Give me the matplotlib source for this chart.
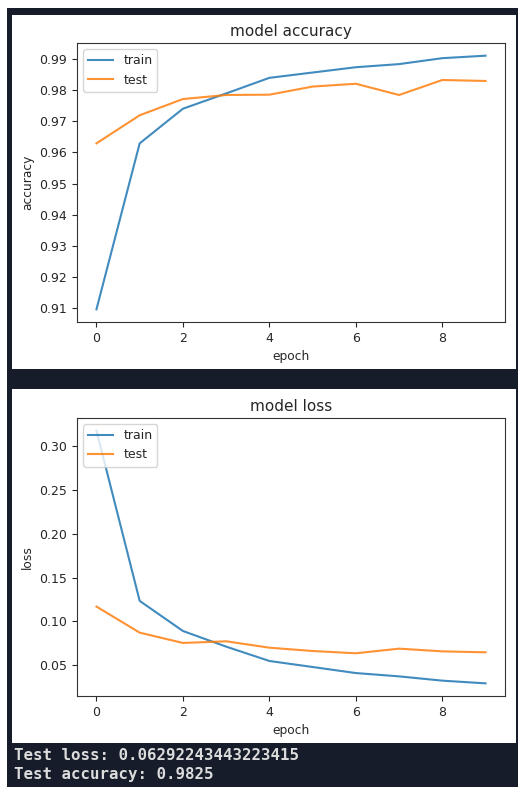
import matplotlib
matplotlib.use('Agg')
import matplotlib.pyplot as plt
from matplotlib.patches import Rectangle

# Training history
epochs = list(range(10))
acc_train = [0.9097, 0.9629, 0.9740, 0.9789, 0.9839, 0.9856, 0.9873, 0.9883, 0.9902, 0.9910]
acc_test = [0.9629, 0.9719, 0.9771, 0.9784, 0.9785, 0.9811, 0.9820, 0.9784, 0.9832, 0.9829]
loss_train = [0.318, 0.1233, 0.0889, 0.0710, 0.0546, 0.0477, 0.0408, 0.0370, 0.0321, 0.0290]
loss_test = [0.1168, 0.0870, 0.0752, 0.0771, 0.0698, 0.0660, 0.0634, 0.0687, 0.0656, 0.0645]
output_lines = ['Test loss: 0.06292243443223415', 'Test accuracy: 0.9825']

W, H = 518, 787
fig = plt.figure(figsize=(W / 100, H / 100), dpi=100)
fig.patch.set_facecolor('white')

def px_rect(x0, y0, x1, y1):
    # convert pixel box (top-left origin) to figure fraction
    return [x0 / W, 1 - y1 / H, (x1 - x0) / W, (y1 - y0) / H]

# dark notebook background and the two white plot images (behind the axes)
bg = px_rect(7, 8, 518, 787)
fig.patches.append(Rectangle((bg[0], bg[1]), bg[2], bg[3], transform=fig.transFigure,
                             facecolor='#161c29', edgecolor='none', zorder=-3))
for y0, y1 in [(15, 369), (389, 743)]:
    r = px_rect(12, y0, 516, y1)
    fig.patches.append(Rectangle((r[0], r[1]), r[2], r[3], transform=fig.transFigure,
                                 facecolor='white', edgecolor='none', zorder=-2))

txt_col = '#262626'

def make_panel(box, train, test, title, ylabel):
    ax = fig.add_axes(px_rect(*box))
    ax.plot(epochs, train, color='#1f77b4', lw=1.5, alpha=0.85, label='train')
    ax.plot(epochs, test, color='#ff7f0e', lw=1.5, alpha=0.85, label='test')
    ax.set_title(title, fontsize=11, color=txt_col, pad=5)
    ax.set_xlabel('epoch', fontsize=8.8, color=txt_col)
    ax.set_ylabel(ylabel, fontsize=8.8, color=txt_col)
    ax.tick_params(labelsize=9, colors=txt_col)
    ax.set_xticks([0, 2, 4, 6, 8])
    for s in ax.spines.values():
        s.set_color('#333333')
    ax.legend(loc='upper left', fontsize=9, labelcolor=txt_col)
    return ax

ax1 = make_panel((77, 43, 505, 322), acc_train, acc_test, 'model accuracy', 'accuracy')
ax1.set_yticks([0.91, 0.92, 0.93, 0.94, 0.95, 0.96, 0.97, 0.98, 0.99])
ax2 = make_panel((77, 418, 505, 696), loss_train, loss_test, 'model loss', 'loss')
ax2.set_yticks([0.05, 0.10, 0.15, 0.20, 0.25, 0.30])
ax2.set_yticklabels(['0.05', '0.10', '0.15', '0.20', '0.25', '0.30'])

# printed output under the plots
for i, line in enumerate(output_lines):
    fig.text(14 / W, 1 - (755 + 20 * i) / H, line, fontsize=11.3, family='DejaVu Sans Mono',
             weight='bold', color='#dcdcdc', va='center', ha='left')

fig.savefig('out.png', dpi=100)
